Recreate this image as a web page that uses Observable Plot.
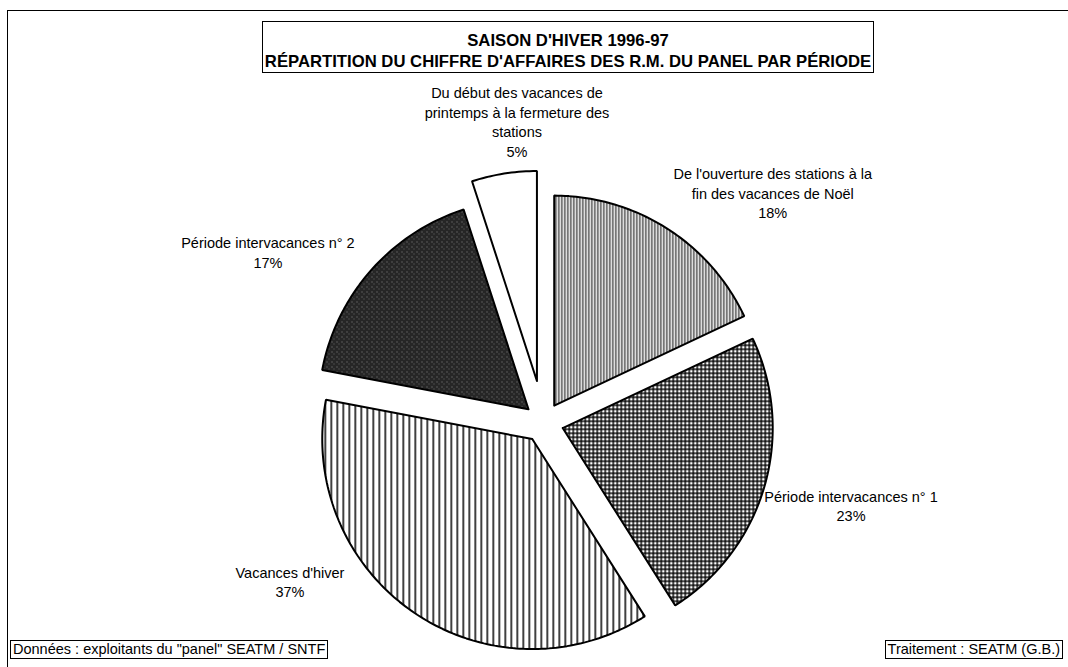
<!DOCTYPE html>
<html><head><meta charset="utf-8">
<script src="https://cdn.jsdelivr.net/npm/d3@7"></script>
<script src="https://cdn.jsdelivr.net/npm/@observablehq/plot@0.6"></script>
<style>
body{margin:0;background:#fff;font-family:"Liberation Sans",Arial,sans-serif;color:#000;}
#wrap{position:relative;width:1068px;height:667px;overflow:hidden;}
#frame{position:absolute;left:7px;top:10px;right:-10px;bottom:-10px;border-left:1.5px solid #000;border-top:1.5px solid #000;}
#title{position:absolute;left:262px;top:21px;width:612px;height:52px;box-sizing:border-box;border:1.5px solid #000;text-align:center;font-weight:bold;font-size:16.7px;line-height:21px;padding-top:8px;white-space:nowrap;}
.src{position:absolute;top:640px;height:19px;box-sizing:border-box;border:1.5px solid #000;font-size:14.5px;line-height:16px;padding:0 2px;white-space:nowrap;}
#chart{position:absolute;left:0;top:0;}
</style></head>
<body><div id="wrap"><div id="frame"></div><div id="chart"></div>
<div id="title">SAISON D'HIVER 1996-97<br>RÉPARTITION DU CHIFFRE D'AFFAIRES DES R.M. DU PANEL PAR PÉRIODE</div>
<div class="src" style="left:10px">Données : exploitants du "panel" SEATM / SNTF</div>
<div class="src" style="right:5px">Traitement : SEATM (G.B.)</div>
</div>
<script>
// ---- data ----
const categories = [
  "De l'ouverture des stations à la fin des vacances de Noël",
  "Période intervacances n° 1",
  "Vacances d'hiver",
  "Période intervacances n° 2",
  "Du début des vacances de printemps à la fermeture des stations"
];
const labelText = [
  "De l'ouverture des stations à la\nfin des vacances de Noël",
  "Période intervacances n° 1",
  "Vacances d'hiver",
  "Période intervacances n° 2",
  "Du début des vacances de\nprintemps à la fermeture des\nstations"
];
const shares = [18, 23, 37, 17, 5];

// ---- layout (pixels) ----
const center = {x: 543, y: 422};
const radius = 210;
const explode = [20, 20, 20, 20, 42];
const labelAngle = [48.3, 107.8, 235.4, 299.3, 354.3];   // degrees clockwise from north
const labelRadius = [307, 323, 308, 316, 267];
const patterns = ["p0", "p1", "p2", "p3", "p4"];

const total = d3.sum(shares);
const rad = Math.PI / 180;
let acc = 0;
const slices = shares.map((v, i) => {
  const a0 = acc / total * 2 * Math.PI; acc += v;
  const a1 = acc / total * 2 * Math.PI;
  const am = (a0 + a1) / 2;
  const ax = center.x + explode[i] * Math.sin(am), ay = center.y - explode[i] * Math.cos(am);
  const pts = [{x: ax, y: ay}];
  const n = Math.max(2, Math.ceil((a1 - a0) / rad));
  for (let k = 0; k <= n; k++) {
    const a = a0 + (a1 - a0) * k / n;
    pts.push({x: ax + radius * Math.sin(a), y: ay - radius * Math.cos(a)});
  }
  pts.push({x: ax, y: ay});
  return {i, pts};
});
const labels = shares.map((v, i) => ({
  x: center.x + labelRadius[i] * Math.sin(labelAngle[i] * rad),
  y: center.y - labelRadius[i] * Math.cos(labelAngle[i] * rad),
  text: `${labelText[i]}\n${v}%`
}));

const svg = Plot.plot({
  width: 1068, height: 667, margin: 0,
  style: {background: "transparent", fontFamily: "'Liberation Sans', Arial, sans-serif"},
  x: {domain: [0, 1068], range: [0, 1068], axis: null},
  y: {domain: [0, 667], range: [0, 667], axis: null},
  marks: [
    ...slices.map(s => Plot.line(s.pts, {x: "x", y: "y", fill: `url(#${patterns[s.i]})`, stroke: "#000", strokeWidth: 2, strokeLinejoin: "miter", curve: "linear"})),
    Plot.text(labels, {x: "x", y: "y", text: "text", lineAnchor: "bottom", lineHeight: 1.345, fontSize: 14.5, fill: "#000"})
  ]
});

const defs = d3.select(svg).insert("defs", ":first-child");
// p0: fine grey vertical hatching with dots
let p = defs.append("pattern").attr("id", "p0").attr("patternUnits", "userSpaceOnUse").attr("width", 3).attr("height", 2);
p.append("rect").attr("width", 3).attr("height", 2).attr("fill", "#fff");
p.append("rect").attr("width", 1).attr("height", 2).attr("fill", "#333");
p.append("rect").attr("x", 2).attr("y", 1).attr("width", 1).attr("height", 1).attr("fill", "#777");
// p1: cross-hatch grid
p = defs.append("pattern").attr("id", "p1").attr("patternUnits", "userSpaceOnUse").attr("width", 4).attr("height", 4);
p.append("rect").attr("width", 4).attr("height", 4).attr("fill", "#fff");
p.append("rect").attr("width", 4).attr("height", 1.4).attr("fill", "#000");
p.append("rect").attr("width", 1.4).attr("height", 4).attr("fill", "#000");
// p2: vertical lines
p = defs.append("pattern").attr("id", "p2").attr("patternUnits", "userSpaceOnUse").attr("width", 6).attr("height", 6);
p.append("rect").attr("width", 6).attr("height", 6).attr("fill", "#fff");
p.append("rect").attr("width", 1.5).attr("height", 6).attr("fill", "#000");
// p3: dark speckled
p = defs.append("pattern").attr("id", "p3").attr("patternUnits", "userSpaceOnUse").attr("width", 5).attr("height", 5);
p.append("rect").attr("width", 5).attr("height", 5).attr("fill", "#262626");
p.append("rect").attr("x", 1).attr("y", 1).attr("width", 1).attr("height", 1).attr("fill", "#8a8a8a");
p.append("rect").attr("x", 3).attr("y", 3).attr("width", 1).attr("height", 1).attr("fill", "#6a6a6a");
// p4: white
p = defs.append("pattern").attr("id", "p4").attr("patternUnits", "userSpaceOnUse").attr("width", 4).attr("height", 4);
p.append("rect").attr("width", 4).attr("height", 4).attr("fill", "#fff");

document.getElementById("chart").appendChild(svg);
</script>
</body></html>
